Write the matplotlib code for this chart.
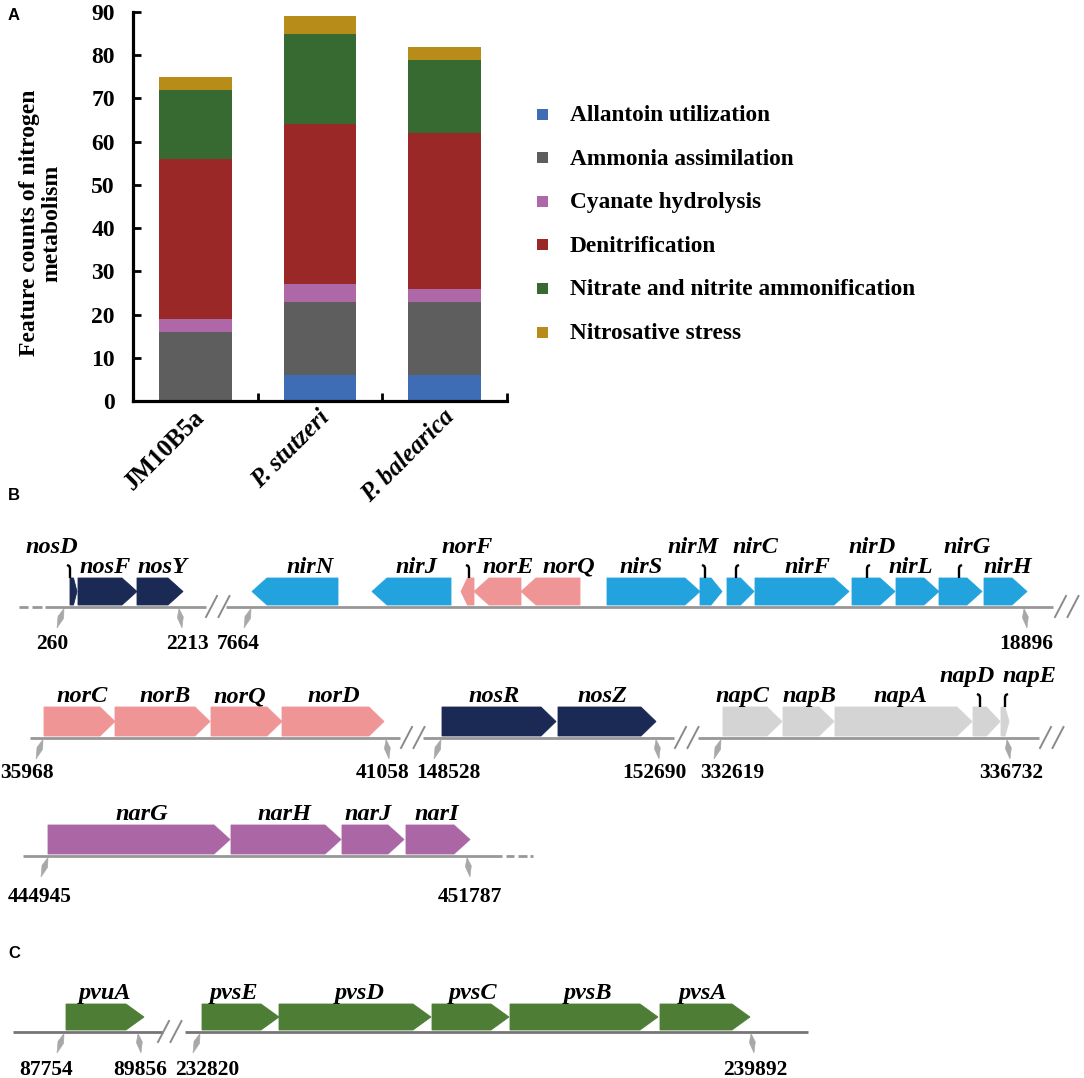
import matplotlib
matplotlib.use('Agg')
import matplotlib.pyplot as plt
from matplotlib.patches import Polygon, Rectangle
from matplotlib.ticker import NullFormatter, FixedLocator
from matplotlib.transforms import ScaledTranslation
import numpy as np

# ======================= DATA =======================
# Panel A: feature counts of nitrogen metabolism
strains = ['JM10B5a', 'P. stutzeri', 'P. balearica']
categories = ['Allantoin utilization', 'Ammonia assimilation', 'Cyanate hydrolysis',
              'Denitrification', 'Nitrate and nitrite ammonification', 'Nitrosative stress']
allantoin = [0, 6, 6]
ammonia = [16, 17, 17]
cyanate = [3, 4, 3]
denitrification = [37, 37, 36]
nitrate_ammonification = [16, 21, 17]
nitrosative = [3, 4, 3]
y_ticks = [0, 10, 20, 30, 40, 50, 60, 70, 80, 90]

# Panels B / C: gene maps (track, name, start, end, strand, group) in map units
gene_track = [0]*16 + [1]*11 + [2]*4 + [3]*6
gene_names = ['nosD', 'nosF', 'nosY', 'nirN', 'nirJ', 'norF', 'norE', 'norQ', 'nirS', 'nirM',
              'nirC', 'nirF', 'nirD', 'nirL', 'nirG', 'nirH',
              'norC', 'norB', 'norQ', 'norD', 'nosR', 'nosZ', 'napC', 'napB', 'napA', 'napD', 'napE',
              'narG', 'narH', 'narJ', 'narI',
              'pvuA', 'pvsE', 'pvsD', 'pvsC', 'pvsB', 'pvsA']
gene_start = [70, 78, 137, 252, 372, 461, 474, 521, 607, 700, 727, 755, 852, 896, 939, 984,
              44, 115, 211, 282, 442, 558, 723, 783, 835, 973, 1001,
              48, 231, 342, 406,
              66, 202, 279, 432, 510, 660]
gene_end = [77, 137, 183, 338, 451, 474, 521, 580, 700, 722, 754, 849, 895, 939, 982, 1027,
            115, 210, 282, 384, 556, 656, 782, 834, 972, 1000, 1009,
            230, 341, 404, 470,
            144, 279, 431, 509, 658, 750]
gene_strand = [1, 1, 1, -1, -1, -1, -1, -1, 1, 1, 1, 1, 1, 1, 1, 1,
               1, 1, 1, 1, 1, 1, 1, 1, 1, 1, 1,
               1, 1, 1, 1,
               1, 1, 1, 1, 1, 1]
gene_group = ['nos', 'nos', 'nos', 'nir', 'nir', 'nor', 'nor', 'nor', 'nir', 'nir', 'nir', 'nir',
              'nir', 'nir', 'nir', 'nir',
              'nor', 'nor', 'nor', 'nor', 'nos', 'nos', 'nap', 'nap', 'nap', 'nap', 'nap',
              'nar', 'nar', 'nar', 'nar',
              'pvs', 'pvs', 'pvs', 'pvs', 'pvs', 'pvs']

# genomic position markers (track, map x, label)
pos_track = [0, 0, 0, 0, 1, 1, 1, 1, 1, 1, 2, 2, 3, 3, 3, 3]
pos_x = [64, 179, 251, 1024, 43, 386, 441, 656, 721, 1007, 48, 467, 64, 138, 200, 751]
pos_labels = ['260', '2213', '7664', '18896', '35968', '41058', '148528', '152690',
              '332619', '336732', '444945', '451787', '87754', '89856', '232820', '239892']
pos_side = ['L', 'R', 'L', 'R', 'L', 'R', 'L', 'R', 'L', 'R', 'L', 'R', 'L', 'R', 'L', 'R']

# ======================= LAYOUT / STYLE =======================
W, H = 1084, 1078
serif = 'Liberation Serif'
sans = 'Liberation Sans'
plt.rcParams['font.family'] = [serif, 'DejaVu Serif']
plt.rcParams['font.weight'] = 'bold'

cat_colors = ['#3F6DB5', '#5E5E5E', '#AE67A7', '#9A2826', '#376A31', '#B88C19']
group_colors = {'nos': '#1A2A55', 'nir': '#22A3DD', 'nor': '#F09595',
                'nap': '#D4D4D4', 'nar': '#AB66A6', 'pvs': '#4E7D35'}

GENE_FS = 17.5
POS_FS = 15.5
track_y = [607, 738, 856, 1032]
track_h = [27, 29, 29, 26]
track_hmax = [15, 15, 16, 18]
track_lbl_off = [42, 40, 46, 43]
track_line_color = ['#979797', '#979797', '#979797', '#757575']
track_segments = [[(19, 28), (32, 42), (45, 206), (226, 1053)],
                  [(30, 400), (423, 674), (698, 1039)],
                  [(23, 502), (506, 514), (518, 527), (530, 533)],
                  [(13, 163), (185, 808)]]
track_breaks = [[206, 1055], [401, 675, 1040], [], [158]]

# label x positions (same order as gene_names)
gene_label_x = [52, 105, 163, 310, 416, 467, 508, 569, 641, 693, 755, 807, 872, 911, 967, 1008,
                82, 165, 240, 334, 494, 603, 742, 809, 900, 967, 1029,
                142, 285, 368, 437,
                105, 234, 360, 473, 588, 703]
# hooked labels: (name, track) -> (hook x, bend)
hooked = {('nosD', 0): (70, -1), ('norF', 0): (469, -1), ('nirM', 0): (705, -1),
          ('nirC', 0): (736, 1), ('nirD', 0): (867, 1), ('nirG', 0): (959, 1),
          ('napD', 1): (980, -1), ('napE', 1): (1005, 1)}
pos_label_x = [52, 187, 238, 1026, 27, 383, 448, 654, 732, 1011, 40, 470, 46, 140, 207, 755]

fig = plt.figure(figsize=(W / 100, H / 100), dpi=100)


def fx(px):
    return px / W


def fy(py):
    return 1 - py / H


# ======================= PANEL A =======================
ax = fig.add_axes([fx(133), fy(401), fx(507) - fx(133), fy(12) - fy(401)])
xpos = np.arange(len(strains))
series = [allantoin, ammonia, cyanate, denitrification, nitrate_ammonification, nitrosative]
bottom = np.zeros(len(strains))
for vals, c in zip(series, cat_colors):
    ax.bar(xpos, vals, width=0.585, bottom=bottom, color=c, linewidth=0)
    bottom += np.array(vals)
ax.set_xlim(-0.5, 2.5)
ax.set_ylim(0, 90)
for s in ['top', 'right']:
    ax.spines[s].set_visible(False)
for s in ['left', 'bottom']:
    ax.spines[s].set_linewidth(2.3)
    ax.spines[s].set_color('black')
ax.set_yticks(y_ticks)
ax.tick_params(axis='y', direction='in', length=6, width=2, labelsize=17, pad=13)
ax.xaxis.set_major_locator(FixedLocator([0.5, 1.5, 2.5]))
ax.xaxis.set_major_formatter(NullFormatter())
ax.tick_params(axis='x', which='major', direction='in', length=6, width=2)
ax.set_xticks(xpos, strains, minor=True)
ax.tick_params(axis='x', which='minor', length=0, labelsize=18, pad=9)
for lbl in ax.get_xticklabels(minor=True):
    lbl.set_rotation(45)
    lbl.set_ha('right')
    lbl.set_va('center')
    lbl.set_rotation_mode('anchor')
    lbl.set_fontweight('bold')
    if lbl.get_text().startswith('P.'):
        lbl.set_fontstyle('italic')
    lbl.set_transform(lbl.get_transform() + ScaledTranslation(6 / 100, 0, fig.dpi_scale_trans))
for lbl in ax.get_yticklabels():
    lbl.set_fontweight('bold')

fig.text(fx(41), fy(223), 'Feature counts of nitrogen\nmetabolism', rotation=90,
         ha='center', va='center', fontsize=17, fontweight='bold', linespacing=1.1,
         multialignment='center')

# ======================= OVERLAY (legend, B, C) =======================
ov = fig.add_axes([0, 0, 1, 1], zorder=5)
ov.set_xlim(0, W)
ov.set_ylim(H, 0)
ov.axis('off')

# legend
for i, (cat, c) in enumerate(zip(categories, cat_colors)):
    ly = 114 + i * 43.6
    ov.add_patch(Rectangle((537, ly - 5.5), 11, 11, color=c, lw=0))
    ov.text(570, ly + 7, cat, ha='left', va='baseline', fontsize=16.8, fontweight='bold')

# panel letters
for letter, (lx, ly) in zip(['A', 'B', 'C'], [(14, 16), (14, 496), (14, 953)]):
    ov.text(lx, ly, letter, family=[sans, 'DejaVu Sans'], fontweight='bold', fontsize=12,
            ha='center', va='center')

# backbones
for t in range(len(track_y)):
    yb = track_y[t]
    for (a, b) in track_segments[t]:
        ov.plot([a, b], [yb, yb], color=track_line_color[t], lw=2.0, solid_capstyle='butt')
    for bx in track_breaks[t]:
        for k in range(2):
            x0 = bx + k * 12.5
            ov.plot([x0, x0 + 11], [yb + 10, yb - 11], color='#8A8A8A', lw=1.4)

# genes
for i, name in enumerate(gene_names):
    t = gene_track[i]
    yb = track_y[t] - 2
    h = track_h[t]
    s, e = gene_start[i], gene_end[i]
    L = e - s
    head = min(track_hmax[t], 0.5 * L)
    top = yb - h
    mid = yb - h / 2
    if gene_strand[i] > 0:
        b = e - head
        pts = [(s, top), (b, top), (e, mid), (b, yb), (s, yb)]
    else:
        b = s + head
        pts = [(e, top), (b, top), (s, mid), (b, yb), (e, yb)]
    col = group_colors[gene_group[i]]
    ov.add_patch(Polygon(pts, closed=True, facecolor=col, edgecolor=col, lw=0.6, zorder=3))
    key = (name, t)
    if key in hooked:
        hx, bend = hooked[key]
        ov.text(gene_label_x[i], top - 25, name, ha='center', va='baseline', fontsize=GENE_FS,
                fontstyle='italic', fontweight='bold')
        ov.plot([hx + bend * 3, hx + bend * 0.8, hx, hx],
                [top - 13, top - 12, top - 10, top], color='black', lw=1.7,
                solid_capstyle='butt', zorder=4)
    else:
        ov.text(gene_label_x[i], top - 5, name, ha='center', va='baseline', fontsize=GENE_FS,
                fontstyle='italic', fontweight='bold')

# position markers
for i, lab in enumerate(pos_labels):
    t = pos_track[i]
    yb = track_y[t]
    x = pos_x[i]
    bx = x - 7 if pos_side[i] == 'L' else x + 3
    T = np.array([x, yb + 1.5])
    B = np.array([bx, yb + 21])
    v = B - T
    n = np.array([-v[1], v[0]]) / np.hypot(*v)
    M = T + 0.45 * v
    pts = [T, M + 3.0 * n, B, M - 3.0 * n]
    ov.add_patch(Polygon(pts, closed=True, facecolor='#A8A8A8', edgecolor='#A8A8A8',
                         lw=0.4, zorder=3))
    ov.text(pos_label_x[i], yb + track_lbl_off[t], lab, ha='center', va='baseline',
            fontsize=POS_FS, fontweight='bold')

fig.savefig('out.png', dpi=100, facecolor='white')
